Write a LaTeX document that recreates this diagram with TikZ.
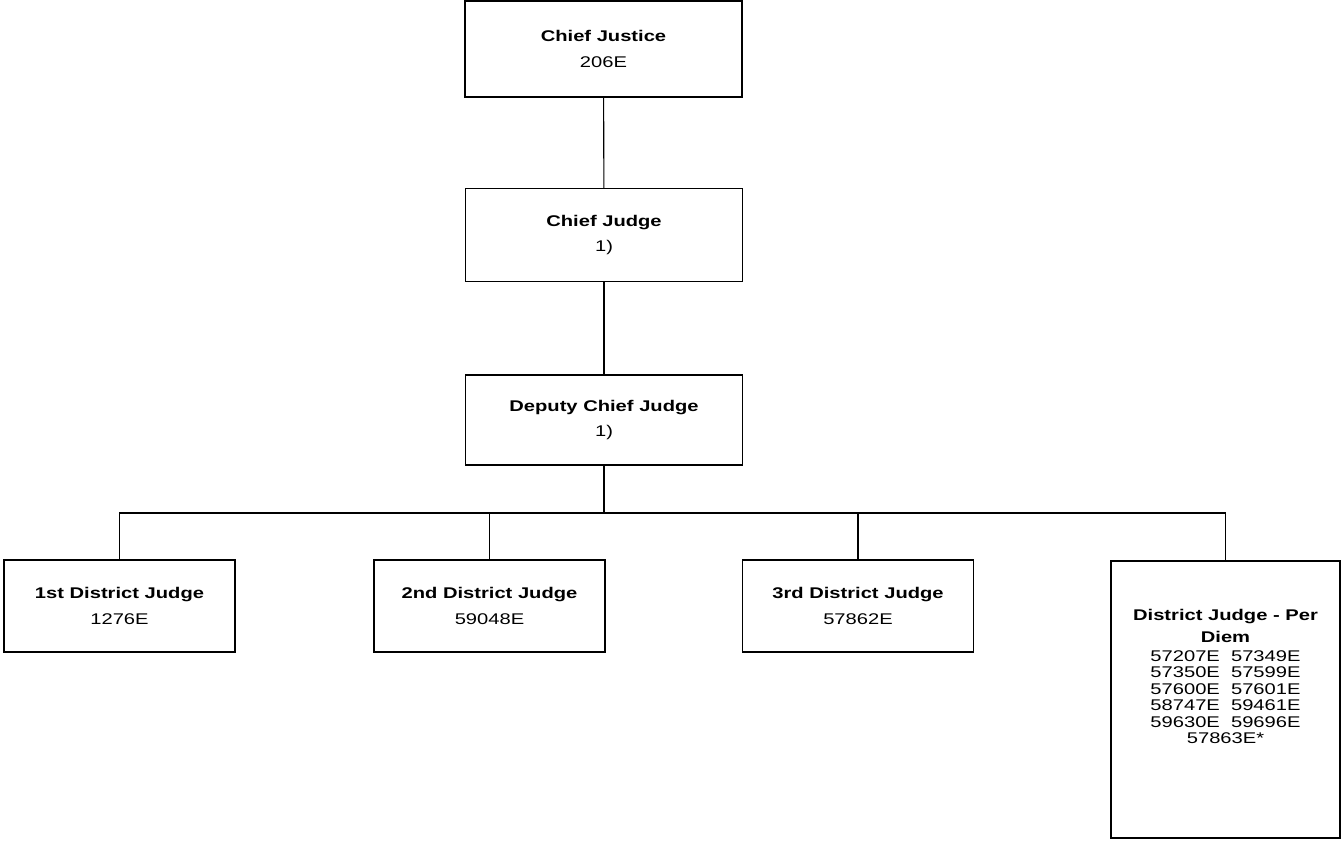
\documentclass[tikz,border=0pt]{standalone}
\usepackage{fontspec}
\newfontfamily\orgfont{Liberation Sans}[FakeStretch=1.3]

\begin{document}
\begin{tikzpicture}[x=1pt,y=-1pt,
        box/.style={draw, line width=1.3pt, align=center, inner sep=0pt,
            font=\orgfont\fontsize{15.5}{16.5}\selectfont},
        topbox/.style={box, minimum width=277pt, minimum height=93pt},
        distbox/.style={box, minimum width=231pt, minimum height=92pt},
        link/.style={line width=1.1pt}]
        \useasboundingbox (0,0) rectangle (1342,842);
        % top of the chart
        \node[topbox, minimum height=96pt] (justice) at (603.5,49) {\textbf{Chief Justice}\\[9pt]206E};
        \node[topbox] (chief) at (604,235) {\textbf{Chief Judge}\\[9pt]1)};
        \node[topbox, minimum height=90pt] (deputy) at (604,420) {\textbf{Deputy Chief Judge}\\[9pt]1)};
        % district judges
        \node[distbox] (first) at (119.5,606) {\textbf{1st District Judge}\\[9pt]1276E};
        \node[distbox] (second) at (489.5,606) {\textbf{2nd District Judge}\\[9pt]59048E};
        \node[distbox] (third) at (858,606) {\textbf{3rd District Judge}\\[9pt]57862E};
        \node[box, minimum width=229pt, minimum height=277pt] (perdiem) at (1225.5,699.5)
            {\textbf{District Judge - Per}\\[6pt]\textbf{Diem}\\[2pt]
             57207E\ \ 57349E\\57350E\ \ 57599E\\57600E\ \ 57601E\\
             58747E\ \ 59461E\\59630E\ \ 59696E\\57863E*\\[30pt]\mbox{}};
        % connectors
        \coordinate (bus) at (0,513);
        \draw[link] (justice) -- (chief);
        \draw[link] (chief) -- (deputy);
        \draw[link] (deputy.south) -- (deputy.south |- bus);
        \draw[link] (first.north) -- (first.north |- bus) -- (perdiem.north |- bus) -- (perdiem.north);
        \foreach \n in {second,third}
            \draw[link] (\n.north) -- (\n.north |- bus);
    \end{tikzpicture}
\end{document}
